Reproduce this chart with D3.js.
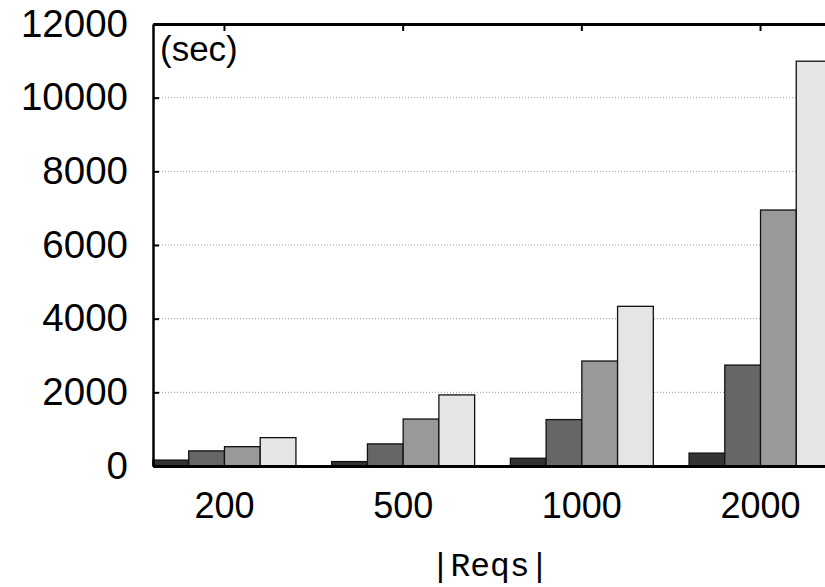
<!DOCTYPE html>
<html>
<head>
<meta charset="utf-8">
<script src="https://cdn.jsdelivr.net/npm/d3@7"></script>
<style>
  html, body { margin: 0; padding: 0; background: #fff; overflow: hidden; }
  svg { display: block; }
</style>
</head>
<body>
<svg id="chart" width="825" height="587"></svg>
<script>
const categories = ["200", "500", "1000", "2000"];
const seriesNames = ["s1", "s2", "s3", "s4"];
const s1 = [160, 120, 210, 350];
const s2 = [410, 600, 1260, 2740];
const s3 = [525, 1275, 2850, 6950];
const s4 = [770, 1930, 4335, 10990];
const seriesValues = [s1, s2, s3, s4];
const yTicks = [0, 2000, 4000, 6000, 8000, 10000, 12000];
const gridTicks = [2000, 4000, 6000, 8000, 10000];
const colors = ["#333333", "#666666", "#999999", "#e5e5e5"];

const plotL = 153, plotR = 832, plotT = 24, plotB = 466;
const svg = d3.select("#chart");

const x = d3.scaleBand().domain(categories).range([plotL, plotR]).paddingInner(0.2).paddingOuter(0);
const xs = d3.scaleBand().domain(seriesNames).range([0, x.bandwidth()]).padding(0);
const y = d3.scaleLinear().domain([0, 12000]).range([plotB, plotT]);

// grid
svg.append("g").selectAll("line").data(gridTicks).join("line")
  .attr("x1", plotL).attr("x2", plotR)
  .attr("y1", d => y(d)).attr("y2", d => y(d))
  .attr("stroke", "#9a9a9a").attr("stroke-width", 1)
  .attr("stroke-dasharray", "1,2");

// bars
const data = [];
categories.forEach((c, i) => {
  seriesNames.forEach((s, j) => data.push({ c, s, j, v: seriesValues[j][i] }));
});
svg.append("g").selectAll("rect").data(data).join("rect")
  .attr("x", d => x(d.c) + xs(d.s))
  .attr("y", d => y(d.v))
  .attr("width", xs.bandwidth())
  .attr("height", d => y(0) - y(d.v))
  .attr("fill", d => colors[d.j])
  .attr("stroke", "#111").attr("stroke-width", 1.3);

// y axis
const yAxis = svg.append("g").attr("transform", `translate(${plotL},0)`)
  .call(d3.axisLeft(y).tickValues(yTicks).tickFormat(d3.format("d")).tickSizeInner(-6).tickSizeOuter(0).tickPadding(25));
yAxis.select(".domain").attr("stroke", "#000").attr("stroke-width", 2.5);
yAxis.selectAll(".tick line").attr("stroke", "#000").attr("stroke-width", 2);
yAxis.selectAll("text").attr("font-family", "'Liberation Sans', Arial, Helvetica, sans-serif")
  .attr("font-size", 38.5).attr("fill", "#000");

// x axis
const xAxis = svg.append("g").attr("transform", `translate(0,${plotB})`)
  .call(d3.axisBottom(x).tickSize(0).tickPadding(26));
xAxis.select(".domain").attr("stroke", "#000").attr("stroke-width", 3);
xAxis.selectAll("text").attr("font-family", "'Liberation Sans', Arial, Helvetica, sans-serif")
  .attr("font-size", 36).attr("fill", "#000");

// top axis (mirror ticks)
const xTop = svg.append("g").attr("transform", `translate(0,${plotT})`)
  .call(d3.axisTop(x).tickSizeInner(-7).tickSizeOuter(0).tickFormat(""));
xTop.select(".domain").attr("stroke", "#000").attr("stroke-width", 3);
xTop.selectAll(".tick line").attr("stroke", "#000").attr("stroke-width", 2);

// labels
svg.append("text").attr("x", 160).attr("y", 61)
  .attr("font-family", "'Liberation Sans', Arial, Helvetica, sans-serif")
  .attr("font-size", 35).attr("fill", "#000").text("(sec)");
svg.append("text").attr("x", 490).attr("y", 576).attr("text-anchor", "middle")
  .attr("font-family", "'Liberation Mono', 'Courier New', monospace")
  .attr("font-size", 33).attr("fill", "#000").text("|Reqs|");
</script>
</body>
</html>
